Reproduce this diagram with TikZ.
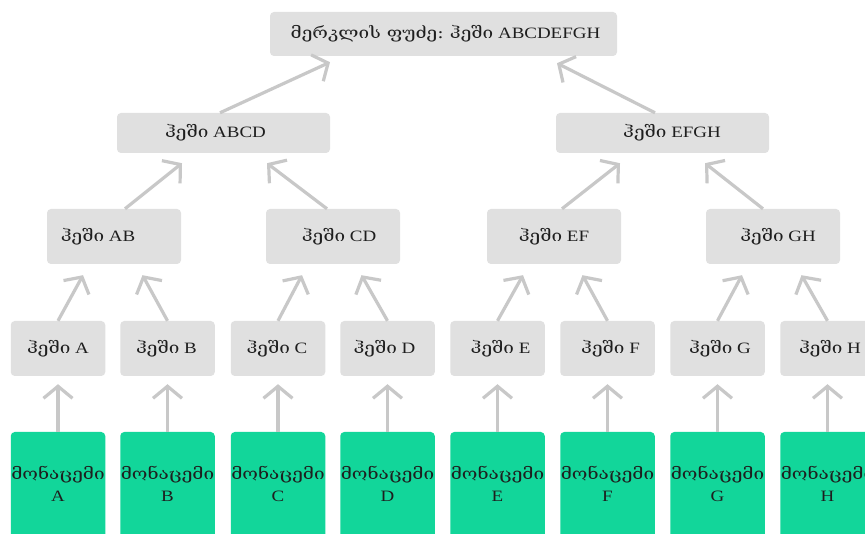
\documentclass[tikz,border=0pt]{standalone}
\usepackage{fontspec}
\setmainfont{Liberation Serif}[FakeStretch=1.2]
\newfontfamily\geo{DejaVu Serif}[FakeStretch=1.2]
\usetikzlibrary{arrows.meta,calc}
\definecolor{boxgray}{HTML}{E0E0E0}
\definecolor{arrgray}{HTML}{C8C8C8}
\definecolor{datagreen}{HTML}{12D69A}
\definecolor{txtcol}{HTML}{1E1E1E}
\begin{document}
\begin{tikzpicture}[x=1pt,y=-1pt,
  hbox/.style={fill=boxgray, rounded corners=4pt, draw=none, inner sep=0pt},
  lbl/.style={font=\fontsize{15.8}{22}\selectfont, text=txtcol, inner sep=0pt, align=center},
  leafbox/.style={hbox, minimum width=94.5pt, minimum height=55pt},
  midbox/.style={hbox, minimum width=134pt, minimum height=55pt},
  upbox/.style={hbox, minimum width=213pt, minimum height=40pt},
  databox/.style={fill=datagreen, rounded corners=4pt, draw=none, minimum width=94.5pt, minimum height=106pt, inner sep=0pt},
  arr/.style={draw=arrgray, line width=3.2pt, -{Straight Barb[length=12pt,width=29pt]}}]
\useasboundingbox (0,0) rectangle (865,534);
\fill[white] (0,0) rectangle (865,534);
\clip (0,0) rectangle (865,534);

% root
\node[hbox, minimum width=347pt, minimum height=44pt] (root) at (443.5,34) {};
\node[lbl] at ($(root.center)+(2,0)$) {{\geo მერკლის ფუძე:} {\geo ჰეში} ABCDEFGH};

% level 2
\node[upbox] (abcd) at (223.5,133) {};
\node[upbox] (efgh) at (662.5,133) {};
\node[lbl] at ($(abcd.center)+(-8,0)$) {{\geo ჰეში} ABCD};
\node[lbl] at ($(efgh.center)+(9.5,0)$) {{\geo ჰეში} EFGH};

% level 3
\node[midbox] (ab) at (114,236.5) {};
\node[midbox] (cd) at (333,236.5) {};
\node[midbox] (ef) at (554,236.5) {};
\node[midbox] (gh) at (773,236.5) {};
\node[lbl] at ($(ab.center)+(-16,0)$) {{\geo ჰეში} AB};
\node[lbl] at ($(cd.center)+(6,0)$) {{\geo ჰეში} CD};
\node[lbl] at ($(ef.center)+(0,0)$) {{\geo ჰეში} EF};
\node[lbl] at ($(gh.center)+(5,0)$) {{\geo ჰეში} GH};

% level 4 and data
\foreach \n/\x/\dx in {A/58/0, B/167.5/-1, C/278/-1, D/387.5/-3, E/497.5/3, F/607.5/3, G/717.5/2.5, H/827.5/2.5} {
  \node[leafbox] (h\n) at (\x,348.5) {};
  \node[lbl] at ($(h\n.center)+(\dx,0)$) {{\geo ჰეში} \n};
  \node[databox] (d\n) at (\x,485) {};
  \node[lbl] at ($(d\n.center)+(0,-1)$) {{\geo მონაცემი}\\\n};
  \draw[arr] (d\n.north) -- ($(h\n.south)+(0,8)$);
}

% level 4 -> level 3
\draw[arr] (hA.north) -- ($(ab.south)+(-31,11)$);
\draw[arr] (hB.north) -- ($(ab.south)+(28.5,11)$);
\draw[arr] (hC.north) -- ($(cd.south)+(-31,11)$);
\draw[arr] (hD.north) -- ($(cd.south)+(28.5,11)$);
\draw[arr] (hE.north) -- ($(ef.south)+(-31,11)$);
\draw[arr] (hF.north) -- ($(ef.south)+(28.5,11)$);
\draw[arr] (hG.north) -- ($(gh.south)+(-31,11)$);
\draw[arr] (hH.north) -- ($(gh.south)+(28.5,11)$);

% level 3 -> level 2
\draw[arr] ($(ab.north)+(11,0)$) -- ($(abcd.south)+(-41.5,10)$);
\draw[arr] ($(cd.north)+(-6,0)$) -- ($(abcd.south)+(43.5,10)$);
\draw[arr] ($(ef.north)+(8,0)$) -- ($(efgh.south)+(-42.5,10)$);
\draw[arr] ($(gh.north)+(-10,0)$) -- ($(efgh.south)+(42.5,10)$);

% level 2 -> root
\draw[arr] ($(abcd.north)+(-3.5,0)$) -- ($(root.south)+(-113.5,6)$);
\draw[arr] ($(efgh.north)+(-7.5,0)$) -- ($(root.south)+(113.5,7)$);
\end{tikzpicture}
\end{document}
